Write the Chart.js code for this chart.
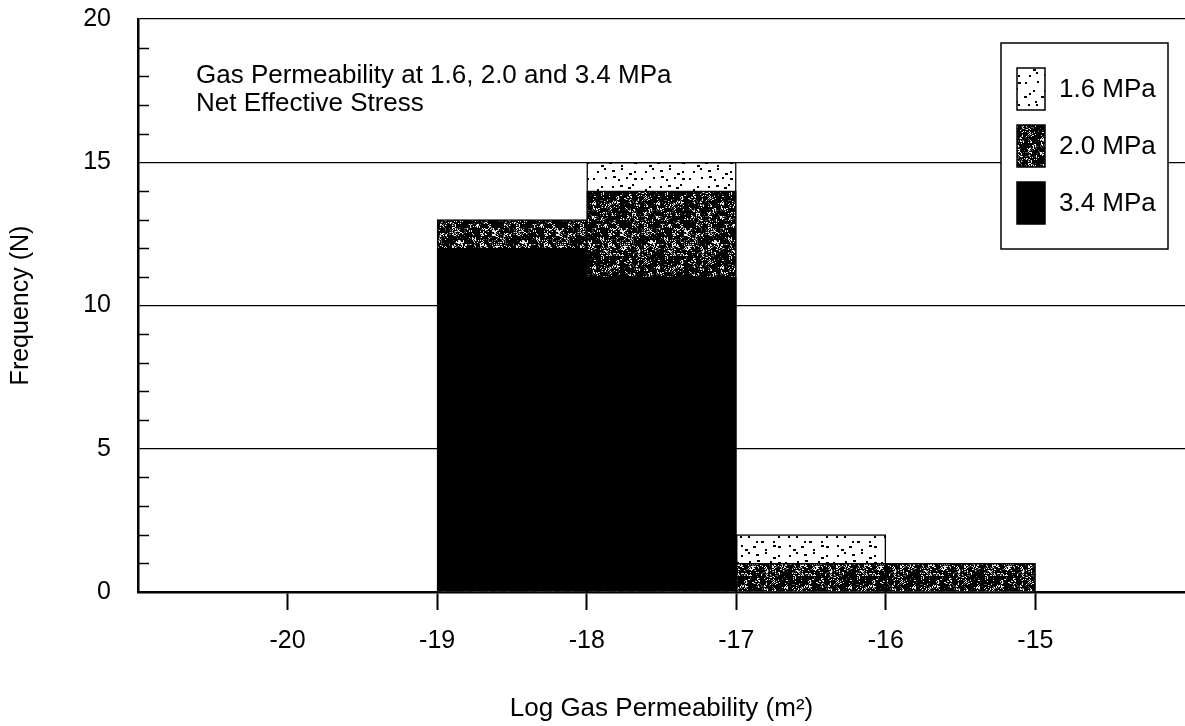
<!DOCTYPE html>
<html>
<head>
<meta charset="utf-8">
<script src="https://cdn.jsdelivr.net/npm/chart.js@4.4.1/dist/chart.umd.min.js"></script>
<style>
  html, body { margin: 0; padding: 0; background: #fff; }
  #wrap { width: 1185px; height: 726px; }
</style>
</head>
<body>
<div id="wrap"><canvas id="perm" width="1185" height="726"></canvas></div>
<script>
// histogram bins: left edge of each bin, log10 of permeability (m^2)
const binLeft = [-19, -18, -17, -16];
const freq16 = [12, 15, 2, 1];
const freq20 = [13, 14, 1, 1];
const freq34 = [12, 11, 0, 0];
const seriesNames = ['1.6 MPa', '2.0 MPa', '3.4 MPa'];
const xTickValues = [-20, -19, -18, -17, -16, -15];
const yTickValues = [0, 5, 10, 15, 20];
const noteLines = ['Gas Permeability at 1.6, 2.0 and 3.4 MPa', 'Net Effective Stress'];

const FONT = "'Liberation Sans', Arial, Helvetica, sans-serif";

// small integer hash, used only for the fill textures
function hash(i) {
  let h = Math.imul(i ^ (i >>> 16), 0x45d9f3b);
  h = Math.imul(h ^ (h >>> 16), 0x45d9f3b);
  h ^= h >>> 16;
  return (h >>> 0) / 4294967296;
}

// scattered dots on white (jittered grid so they stay evenly spread)
function dotFill() {
  const n = 48, step = 8;
  const c = document.createElement('canvas');
  c.width = n; c.height = n;
  const g = c.getContext('2d');
  g.fillStyle = '#fff';
  g.fillRect(0, 0, n, n);
  g.fillStyle = '#000';
  let k = 0;
  for (let gy = 0; gy < n; gy += step) {
    for (let gx = 0; gx < n; gx += step) {
      const x = gx + Math.floor(hash(k * 3 + 11) * (step - 2));
      const y = gy + Math.floor(hash(k * 3 + 12) * (step - 2));
      g.fillRect(x, y, hash(k * 3 + 13) > 0.6 ? 3 : 2, 2);
      k++;
    }
  }
  return g.createPattern(c, 'repeat');
}

// dense dark stipple with white flecks
function speckleFill() {
  const n = 64;
  const c = document.createElement('canvas');
  c.width = n; c.height = n;
  const g = c.getContext('2d');
  const img = g.createImageData(n, n);
  for (let y = 0; y < n; y++) {
    for (let x = 0; x < n; x++) {
      const p = y * n + x;
      const clump = hash(((x >> 2) + (y >> 2) * 16) + 9000);
      const v = hash(p + 300) * 0.6 + clump * 0.4;
      const k = v < 0.66 ? 0 : (v < 0.74 ? 90 : 235);
      img.data[p * 4] = k;
      img.data[p * 4 + 1] = k;
      img.data[p * 4 + 2] = k;
      img.data[p * 4 + 3] = 255;
    }
  }
  g.putImageData(img, 0, 0);
  return g.createPattern(c, 'repeat');
}

const dots = dotFill();
const speckle = speckleFill();
const fills = [dots, speckle, '#000'];

const toPoints = arr => arr.map((v, i) => ({ x: binLeft[i] + 0.5, y: v }));

const barStyle = {
  borderColor: '#000',
  borderWidth: 1.5,
  grouped: false,
  barPercentage: 1,
  categoryPercentage: 1
};

// short inward ticks at each unit on the frequency axis
const innerTicks = {
  id: 'innerTicks',
  afterDatasetsDraw(chart) {
    const ys = chart.scales.y;
    const ctx = chart.ctx;
    const left = chart.chartArea.left;
    ctx.save();
    ctx.strokeStyle = '#000';
    ctx.lineWidth = 1.5;
    ys.ticks.forEach(t => {
      if (yTickValues.includes(t.value)) return;
      const py = Math.round(ys.getPixelForValue(t.value)) + 0.5;
      ctx.beginPath();
      ctx.moveTo(left, py);
      ctx.lineTo(left + 11, py);
      ctx.stroke();
    });
    ctx.restore();
  }
};

// caption text and boxed legend
const notesAndKey = {
  id: 'notesAndKey',
  afterDraw(chart) {
    const ctx = chart.ctx;
    const area = chart.chartArea;
    ctx.save();
    ctx.fillStyle = '#000';
    ctx.font = '26px ' + FONT;
    ctx.textBaseline = 'middle';
    ctx.textAlign = 'left';
    noteLines.forEach((t, i) => ctx.fillText(t, area.left + 58, 76 + i * 28));

    const bx = 1001, by = 43, bw = 167, bh = 206;
    ctx.fillStyle = '#fff';
    ctx.fillRect(bx, by, bw, bh);
    ctx.strokeStyle = '#000';
    ctx.lineWidth = 1.5;
    ctx.strokeRect(bx, by, bw, bh);

    seriesNames.forEach((name, i) => {
      const cy = 89 + i * 57;
      ctx.fillStyle = fills[i];
      ctx.fillRect(bx + 16, cy - 21, 28, 42);
      ctx.strokeStyle = '#000';
      ctx.lineWidth = 1.5;
      ctx.strokeRect(bx + 16, cy - 21, 28, 42);
      ctx.fillStyle = '#000';
      ctx.font = '26px ' + FONT;
      ctx.fillText(name, bx + 58, cy + 1);
    });
    ctx.restore();
  }
};

const chart = new Chart(document.getElementById('perm'), {
  type: 'bar',
  data: {
    datasets: [
      Object.assign({ label: seriesNames[2], data: toPoints(freq34), backgroundColor: fills[2], order: 0 }, barStyle),
      Object.assign({ label: seriesNames[1], data: toPoints(freq20), backgroundColor: fills[1], order: 1 }, barStyle),
      Object.assign({ label: seriesNames[0], data: toPoints(freq16), backgroundColor: fills[0], order: 2 }, barStyle)
    ]
  },
  options: {
    responsive: false,
    animation: false,
    layout: { padding: { top: 19, right: 0, left: 0, bottom: 0 } },
    plugins: {
      legend: { display: false },
      tooltip: { enabled: false }
    },
    scales: {
      x: {
        type: 'linear',
        min: -21,
        max: -14,
        offset: false,
        afterFit(scale) {
          scale.height = 134;
          scale.paddingLeft = 0;
          scale.paddingRight = 0;
        },
        ticks: {
          stepSize: 1,
          autoSkip: false,
          maxRotation: 0,
          minRotation: 0,
          padding: 16,
          color: '#000',
          font: { family: FONT, size: 25 },
          callback: v => xTickValues.includes(v) ? String(v) : ''
        },
        grid: {
          offset: false,
          drawOnChartArea: false,
          drawTicks: true,
          tickLength: 18,
          tickWidth: 2,
          color: ctx => (ctx.tick && xTickValues.includes(ctx.tick.value)) ? '#000' : 'rgba(0,0,0,0)'
        },
        border: { color: '#000', width: 2.5 },
        title: {
          display: true,
          text: 'Log Gas Permeability (m²)',
          color: '#000',
          font: { family: FONT, size: 26 },
          padding: { top: 0, bottom: 2 }
        }
      },
      y: {
        min: 0,
        max: 20,
        afterFit(scale) {
          scale.width = 138;
          scale.paddingTop = 0;
          scale.paddingBottom = 0;
        },
        ticks: {
          stepSize: 1,
          autoSkip: false,
          padding: 27,
          color: '#000',
          font: { family: FONT, size: 25 },
          callback: v => yTickValues.includes(v) ? String(v) : ''
        },
        grid: {
          drawTicks: false,
          lineWidth: 1.3,
          color: ctx => (ctx.tick && yTickValues.includes(ctx.tick.value)) ? '#000' : 'rgba(0,0,0,0)'
        },
        border: { color: '#000', width: 2.5 },
        title: {
          display: true,
          text: 'Frequency (N)',
          color: '#000',
          font: { family: FONT, size: 25 },
          padding: { top: 6, bottom: 0 }
        }
      }
    }
  },
  plugins: [innerTicks, notesAndKey]
});
</script>
</body>
</html>
